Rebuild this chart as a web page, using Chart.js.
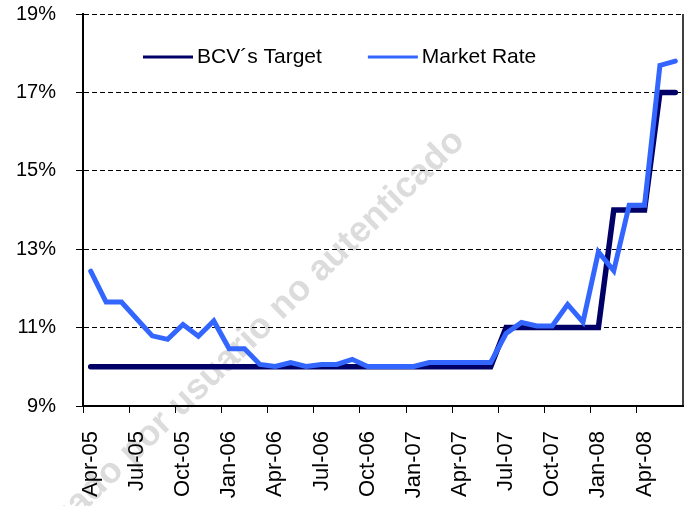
<!DOCTYPE html>
<html lang="en">
<head>
<meta charset="utf-8">
<title>BCV Target vs Market Rate</title>
<script src="https://cdn.jsdelivr.net/npm/chart.js@4.4.1/dist/chart.umd.min.js"></script>
<style>
  html, body { margin: 0; padding: 0; background: #fff; }
  #wrap { width: 684px; height: 506px; }
</style>
</head>
<body>
<div id="wrap"><canvas id="chart"></canvas></div>
<script>
// monthly, Apr-05 .. Jun-08
const months = ['Apr-05','May-05','Jun-05','Jul-05','Aug-05','Sep-05','Oct-05','Nov-05','Dec-05',
  'Jan-06','Feb-06','Mar-06','Apr-06','May-06','Jun-06','Jul-06','Aug-06','Sep-06','Oct-06','Nov-06','Dec-06',
  'Jan-07','Feb-07','Mar-07','Apr-07','May-07','Jun-07','Jul-07','Aug-07','Sep-07','Oct-07','Nov-07','Dec-07',
  'Jan-08','Feb-08','Mar-08','Apr-08','May-08','Jun-08'];

const bcvTarget = [10,10,10,10,10,10,10,10,10,
  10,10,10,10,10,10,10,10,10,10,10,10,
  10,10,10,10,10,10,11,11,11,11,11,11,
  11,14,14,14,17,17];

const marketRate = [12.44,11.65,11.65,11.22,10.79,10.70,11.08,10.78,11.17,
  10.46,10.46,10.06,10.01,10.11,10.01,10.06,10.06,10.19,10.01,10.01,10.01,
  10.01,10.11,10.11,10.11,10.11,10.11,10.85,11.13,11.04,11.04,11.59,11.14,
  12.93,12.45,14.12,14.12,17.69,17.80];

const yTicks = [9, 11, 13, 15, 17, 19];
const FONT = '"Liberation Sans", Arial, sans-serif';

// legend drawn inside the plot area, like the original
const insideLegend = {
  id: 'insideLegend',
  afterDatasetsDraw(chart) {
    const ctx = chart.ctx, area = chart.chartArea;
    const items = [chart.data.datasets[1], chart.data.datasets[0]]; // Target first
    let x = area.left + 60;
    const y = area.top + 43;
    ctx.save();
    ctx.font = '21px ' + FONT;
    ctx.textBaseline = 'middle';
    items.forEach(ds => {
      ctx.strokeStyle = ds.borderColor;
      ctx.lineWidth = 3;
      ctx.beginPath();
      ctx.moveTo(x, y);
      ctx.lineTo(x + 50, y);
      ctx.stroke();
      x += 54;
      ctx.fillStyle = '#000';
      ctx.fillText(ds.label, x, y);
      x += ctx.measureText(ds.label).width + 46;
    });
    ctx.restore();
  }
};

const frame = {
  id: 'frame',
  beforeDraw(chart) {
    const ctx = chart.ctx;
    ctx.save();
    ctx.fillStyle = '#fff';
    ctx.fillRect(0, 0, chart.width, chart.height);
    // watermark
    ctx.translate(466, 143);
    ctx.rotate(-44 * Math.PI / 180);
    ctx.font = 'bold 36px ' + FONT;
    ctx.fillStyle = '#dcdcdc';
    ctx.textAlign = 'right';
    ctx.textBaseline = 'alphabetic';
    ctx.fillText('Documento descargado por usuario no autenticado', 0, 0);
    ctx.restore();
  },
  afterDraw(chart) {
    const ctx = chart.ctx, a = chart.chartArea;
    ctx.save();
    ctx.strokeStyle = '#000';
    ctx.lineWidth = 1.5;
    ctx.beginPath();
    ctx.moveTo(a.right, a.top);
    ctx.lineTo(a.right, a.bottom);
    ctx.stroke();
    ctx.restore();
  }
};

new Chart(document.getElementById('chart'), {
  type: 'line',
  data: {
    labels: months,
    datasets: [{
      label: 'Market Rate',
      data: marketRate,
      borderColor: '#3366FF',
      backgroundColor: '#3366FF',
      borderWidth: 5,
      borderCapStyle: 'round',
      pointRadius: 0,
      tension: 0,
      order: 0
    }, {
      label: 'BCV\u00B4s Target',
      data: bcvTarget,
      borderColor: '#000066',
      backgroundColor: '#000066',
      borderWidth: 5.5,
      borderCapStyle: 'round',
      pointRadius: 0,
      tension: 0,
      order: 1
    }]
  },
  options: {
    responsive: true,
    maintainAspectRatio: false,
    animation: false,
    layout: { padding: { top: 14, right: 1, left: 0, bottom: 0 } },
    plugins: {
      legend: { display: false },
      tooltip: { enabled: false }
    },
    scales: {
      x: {
        type: 'category',
        offset: true,
        grid: {
          offset: true,
          drawOnChartArea: false,
          drawTicks: true,
          tickLength: 7,
          color: ctx => (ctx.index % 3 === 0 ? '#000' : 'rgba(0,0,0,0)'),
          lineWidth: 1
        },
        border: { display: true, color: '#000', width: 2 },
        ticks: {
          autoSkip: false,
          minRotation: 90,
          maxRotation: 90,
          padding: 18,
          color: '#000',
          font: { family: FONT, size: 22 },
          callback: function (val, i) { return i % 3 === 0 ? this.getLabelForValue(val) : ''; }
        },
        afterFit: s => { s.height = 100; s.paddingLeft = 0; s.paddingRight = 0; }
      },
      y: {
        min: 9,
        max: 19,
        afterBuildTicks: s => { s.ticks = yTicks.map(v => ({ value: v })); },
        grid: {
          color: '#000',
          lineWidth: 1,
          tickBorderDash: [],
          tickLength: 7,
          drawTicks: true
        },
        border: { display: true, color: '#000', width: 2, dash: [5, 3] },
        ticks: {
          padding: 20,
          color: '#000',
          font: { family: FONT, size: 20 },
          callback: v => v + '%'
        },
        afterFit: s => { s.width = 83; s.paddingTop = 0; s.paddingBottom = 0; }
      }
    }
  },
  plugins: [frame, insideLegend]
});
</script>
</body>
</html>
